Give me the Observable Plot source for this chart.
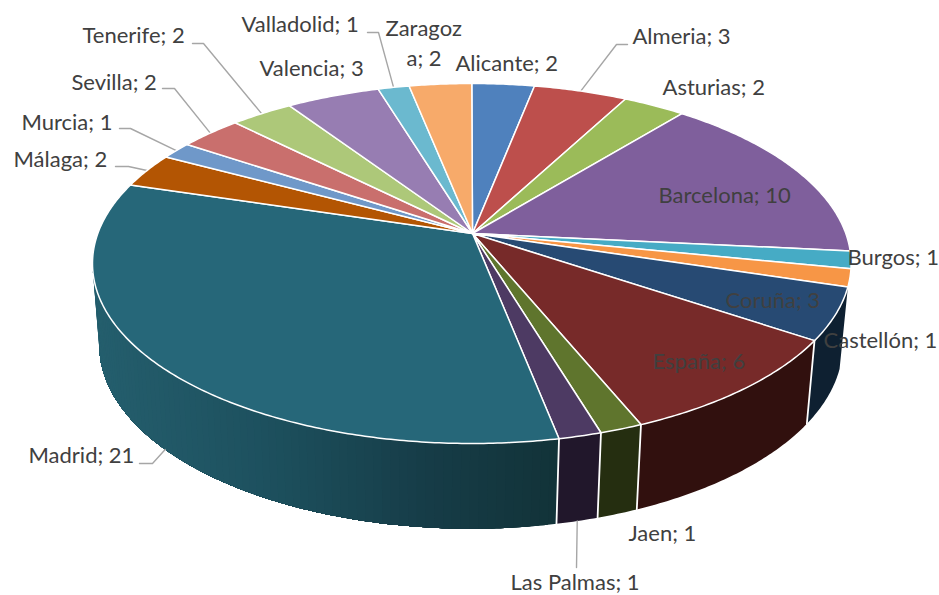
<!DOCTYPE html>
<html>
<head>
<meta charset="utf-8">
<script src="https://cdn.jsdelivr.net/npm/d3@7"></script>
<script src="https://cdn.jsdelivr.net/npm/@observablehq/plot@0.6"></script>
<style>html,body{margin:0;padding:0;background:#fff}svg{display:block}</style>
</head>
<body>
<div id="chart"></div>
<script>
const categories = ["Alicante","Almeria","Asturias","Barcelona","Burgos","Castellón","Coruña","España","Jaen","Las Palmas","Madrid","Málaga","Murcia","Sevilla","Tenerife","Valencia","Valladolid","Zaragoza"];
const counts = [2,3,2,10,1,1,3,6,1,1,21,2,1,2,2,3,1,2];
const topColors = ["#4f81bd","#bd4f4c","#9bbb59","#7f5f9c","#46abc5","#f79646","#274a73","#772a29","#5f752d","#4d3a63","#266779","#b35503","#6f98c9","#c96f6d","#adc879","#977db2","#6bb9cf","#f7aa6a"];
const sideColors = {"Coruña":"#0e2031","España":"#31100e","Jaen":"#252e10","Las Palmas":"#21172b"};
const madridRamp = ["#245e6d","#1d505e","#163c47","#123339"];

// Label placement (left edge, middle) and optional leader elbow, in chart frame
const labelLayout = {
  "Alicante":[455,63],"Almeria":[632,36],"Asturias":[662,87],"Barcelona":[658,195],
  "Burgos":[847,257],"Castellón":[823,340],"Coruña":[725,300],"España":[652,361],
  "Jaen":[628,533],"Las Palmas":[510,582],"Madrid":[28,455],"Málaga":[13,159],
  "Murcia":[21,122],"Sevilla":[71,82],"Tenerife":[82,35],"Valencia":[259,68],"Valladolid":[241,24]
};
const zaragozaLines = [["Zaragoz",385,28],["a; 2",406,58]];
const leaders = {
  "Almeria":[[627,44],[616,44]],"Las Palmas":[[576,567]],"Madrid":[[139,463],[152,463]],
  "Málaga":[[115,166],[128,166]],"Murcia":[[119,128],[130,128]],"Sevilla":[[162,88],[174,88]],
  "Tenerife":[[192,43],[203,43]],"Valladolid":[[367,32],[378,32]]
};
const labelFont = 22;

// Perspective disc geometry
const total = d3.sum(counts);
const cum = d3.cumsum(counts);
const rad = d => d / total * 2 * Math.PI;
const K = 1/6, A = 374, B = 175;
function topPt(t) {
  const u = Math.sin(t), v = -Math.cos(t), w = 1 - K * v;
  return [471.3 + A * u / w, 233 + B * v / w];
}
function botPt(t) {
  const u = Math.sin(t), v = -Math.cos(t), w = 1 - K * v;
  return [470.5 + 0.98 * A * u / w, 314 + 1.02 * B * v / w];
}
const arcT = (a, b, step = 0.01) => {
  const n = Math.max(1, Math.ceil((b - a) / step));
  return d3.range(n + 1).map(i => a + (b - a) * i / n);
};
const slices = categories.map((name, i) => ({name, a: rad(i ? cum[i-1] : 0), b: rad(cum[i])}));

const topPoints = slices.flatMap(s => {
  const pts = [[472,233], ...arcT(s.a, s.b).map(t => topPt(t)), [472,233]];
  return pts.map(([x,y]) => ({name: s.name, x, y}));
});

// Side wall: flat slices, plus Madrid painted in overlapping bands for its shading
const sidePoly = [];
const addStrip = (key, a, b, color) => {
  const ts = arcT(a, b);
  const pts = [...ts.map(t => topPt(t)), ...ts.slice().reverse().map(t => botPt(t))];
  pts.push(pts[0]);
  pts.forEach(([x,y]) => sidePoly.push({key, x, y, color}));
};
for (const s of slices) {
  if (sideColors[s.name]) addStrip(s.name, s.a, s.b, sideColors[s.name]);
  if (s.name === "Madrid") {
    const end = 262 * Math.PI / 180;
    const ramp = d3.scaleLinear().domain([100, 270, 430, 555]).range(madridRamp).clamp(true);
    // each band runs to the far end; the next band paints over it, leaving a clean step
    d3.range(s.a, end, 0.02).forEach((t, i) => {
      const x = botPt(t + 0.01)[0];
      addStrip("M" + i, t, end, d3.color(ramp(x)).formatHex());
    });
  }
}
const sideNames = ["Coruña","España","Jaen","Las Palmas","Madrid"];
const seps = slices.filter(s => sideNames.includes(s.name) && s.name !== "Coruña").flatMap(s => {
  const p = topPt(s.a), q = botPt(s.a);
  return [{key: s.name, x: p[0], y: p[1]}, {key: s.name, x: q[0], y: q[1]}];
});

// Labels and leaders
const labels = categories.filter(c => labelLayout[c]).map((c) => {
  const i = categories.indexOf(c);
  return {text: `${c}; ${counts[i]}`, x: labelLayout[c][0], y: labelLayout[c][1]};
}).concat(zaragozaLines.map(([text,x,y]) => ({text,x,y})));

const leaderPts = Object.entries(leaders).flatMap(([name, start]) => {
  const s = slices.find(d => d.name === name), mid = (s.a + s.b) / 2;
  const onWall = Math.cos(mid) < 0.1 && sideNames.includes(name);
  const end = onWall ? botPt(mid) : topPt(mid);
  return [...start, end].map(([x,y]) => ({name, x, y}));
});

const chart = Plot.plot({
  width: 939, height: 595, margin: 0,
  x: {domain: [0, 939], range: [0, 939], axis: null},
  y: {domain: [0, 595], range: [0, 595], axis: null},
  color: {domain: categories, range: topColors},
  style: {background: "#fff"},
  marks: [
    Plot.line(sidePoly, {x: "x", y: "y", z: "key", curve: "linear",
      fill: {value: "color", scale: null}, stroke: "none"}),
    Plot.line(seps, {x: "x", y: "y", z: "key", curve: "linear", stroke: "#fff", strokeWidth: 1.8}),
    Plot.line(leaderPts, {x: "x", y: "y", z: "name", curve: "linear", stroke: "#a6a6a6", strokeWidth: 1.4}),
    Plot.line(topPoints, {x: "x", y: "y", z: "name", curve: "linear", fill: "name", stroke: "#fff", strokeWidth: 1.5, strokeLinejoin: "round"}),
    Plot.text(labels, {x: "x", y: "y", text: "text", textAnchor: "start", lineAnchor: "middle",
      fontFamily: "Lato", fontSize: labelFont, fill: "#404040"})
  ]
});
document.getElementById("chart").appendChild(chart);
</script>
</body>
</html>
